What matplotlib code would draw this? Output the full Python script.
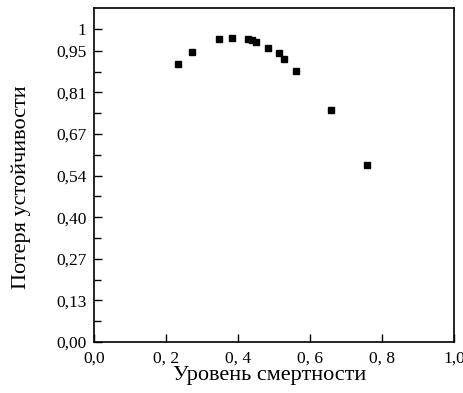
import matplotlib
matplotlib.use('Agg')
import matplotlib.pyplot as plt
import numpy as np

# mortality level vs loss of stability
mortality = [0.233, 0.273, 0.346, 0.383, 0.427, 0.438, 0.450, 0.483, 0.514, 0.529, 0.562, 0.659, 0.758]
stability = [0.908, 0.948, 0.990, 0.992, 0.990, 0.984, 0.978, 0.959, 0.942, 0.924, 0.885, 0.758, 0.579]

xticks = [0.0, 0.2, 0.4, 0.6, 0.8, 1.0]
xtick_labels = ['0,0', '0, 2', '0, 4', '0, 6', '0, 8', '1,0']
# y ticks are evenly spaced in the original, labels are rounded
step = 0.95 / 7
yticks = [step * k for k in range(8)] + [1.022]
ytick_labels = ['0,00', '0,13', '0,27', '0,40', '0,54', '0,67', '0,81', '0,95', '1']
yminor = [step * (k + 0.5) for k in range(7)]

plt.rcParams['font.family'] = ['Liberation Serif', 'DejaVu Serif']

fig = plt.figure(figsize=(4.64, 3.93), dpi=100)
ax = fig.add_axes([94 / 464, 1 - 342 / 393, 360 / 464, 334 / 393])

ax.plot(mortality, stability, 's', color='black', markersize=4.8, lw=0)

ax.set_xlim(0.01, 1.0)
ax.set_ylim(0, 1.09)
ax.set_xticks(xticks)
ax.set_xticklabels(xtick_labels)
ax.set_yticks(yticks)
ax.set_yticklabels(ytick_labels)
ax.set_yticks(yminor, minor=True)

ax.tick_params(axis='both', direction='in', length=6, width=1, labelsize=12.5, colors='black')
ax.tick_params(axis='y', which='minor', direction='in', length=5, width=1)
ax.tick_params(axis='x', pad=6)
ax.tick_params(axis='y', pad=5.5)
for s in ax.spines.values():
    s.set_linewidth(1.2)

ax.set_xlabel('Уровень смертности', fontsize=16)
ax.set_ylabel('Потеря устойчивости', fontsize=16)
ax.xaxis.set_label_coords(0.489, -0.072)
ax.yaxis.set_label_coords(-0.176, 0.464)

fig.savefig('out.png', dpi=100)
